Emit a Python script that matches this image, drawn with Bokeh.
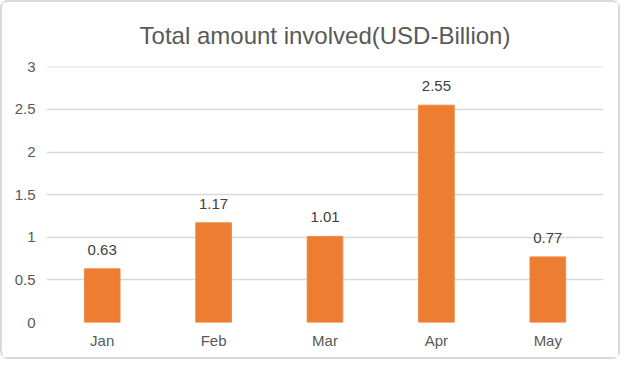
from bokeh.plotting import figure
from bokeh.models import ColumnDataSource, Range1d, FactorRange, LabelSet, FixedTicker
from bokeh.core.properties import value
from bokeh.embed import file_html
from bokeh.resources import INLINE

months = ["Jan", "Feb", "Mar", "Apr", "May"]
amounts = [0.63, 1.17, 1.01, 2.55, 0.77]
labels = ["0.63", "1.17", "1.01", "2.55", "0.77"]
y_ticks = [0, 0.5, 1, 1.5, 2, 2.5, 3]

src = ColumnDataSource(dict(m=months, v=amounts, t=labels))

p = figure(width=620, height=359, x_range=FactorRange(*months, range_padding=0),
           y_range=Range1d(0, 3.004), output_backend="svg", toolbar_location=None,
           title="Total amount involved(USD-Billion)",
           min_border_left=44, min_border_right=19, min_border_top=63, min_border_bottom=39)

p.vbar(x="m", top="v", width=0.32, source=src, fill_color="#ED7D31", line_color="#F08A48")

p.add_layout(LabelSet(x="m", y="v", text="t", source=src, text_align="center",
                      text_baseline="bottom", y_offset=14, text_font_size="15px",
                      text_color="#404040", text_font=value("Liberation Sans")))

p.styles = {"border": "2px solid #D9D9D9", "border-radius": "8px"}

p.title.align = "center"
p.title.text_font = "Liberation Sans"
p.title.text_font_size = "24px"
p.title.text_font_style = "normal"
p.title.text_color = "#595959"
p.title.offset = 0
p.title.standoff = 35

p.yaxis.ticker = FixedTicker(ticks=y_ticks)
for ax in (p.xaxis, p.yaxis):
    ax.axis_line_color = None
    ax.major_tick_line_color = None
    ax.minor_tick_line_color = None
    ax.major_tick_out = 0
    ax.major_tick_in = 0
    ax.minor_tick_out = 0
    ax.major_label_text_font = "Liberation Sans"
    ax.major_label_text_font_size = "15px"
    ax.major_label_text_color = "#595959"
p.yaxis.major_label_standoff = 11
p.xaxis.major_label_standoff = 9

p.xgrid.grid_line_color = None
p.ygrid.grid_line_color = "#D9D9D9"
p.ygrid.grid_line_width = 1.3
p.outline_line_color = None

open("out.html", "w").write(file_html(p, INLINE))
